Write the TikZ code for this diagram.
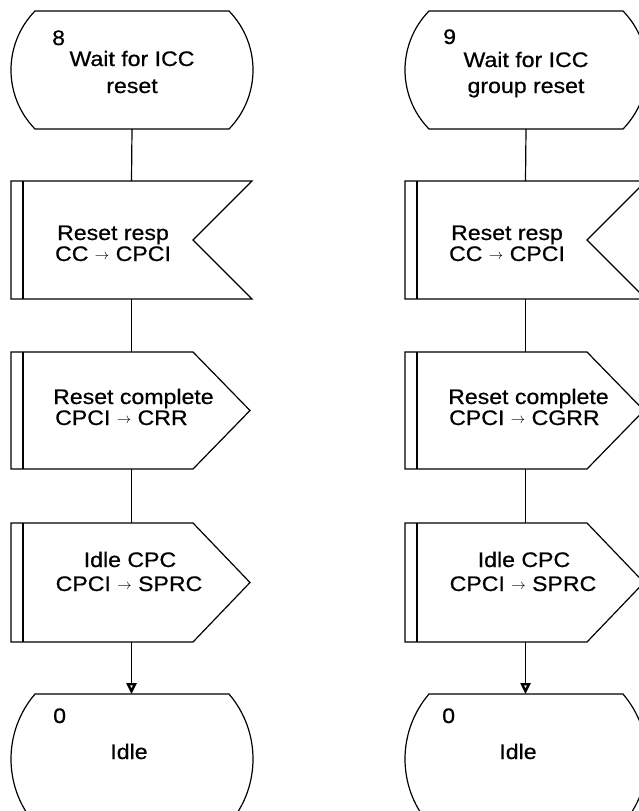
\documentclass[tikz,border=0pt]{standalone}
\usepackage{fontspec}
\setmainfont{Liberation Sans}[FakeStretch=1.1,FakeBold=0.6]
\usetikzlibrary{arrows.meta,calc}

\tikzset{
  lw/.style={line width=1.2pt},
  frame/.style={draw=none, inner sep=0pt, outer sep=0pt},
  txt/.style={inner sep=0pt, font=\fontsize{21}{22}\selectfont, anchor=base},
  txtw/.style={txt, anchor=base west},
  flow/.style={lw},
  flowarrow/.style={lw, -{Triangle[open,length=11pt,width=10pt,line width=2.4pt]}},
}
\newcommand\arr{{\fontsize{15}{15}\selectfont\raisebox{1.5pt}{$\rightarrow$}}}
\newcommand\statepath[3]{%
  \draw[lw] ($(#1.north)+(-97,0)$) -- ($(#1.north)+(97,0)$)
    .. controls ($(#1.north)+(97+#2,#3)$) and ($(#1.south)+(97+#2,-#3)$) .. ($(#1.south)+(97,0)$)
    -- ($(#1.south)+(-97,0)$)
    .. controls ($(#1.south)+(-97-#2,-#3)$) and ($(#1.north)+(-97-#2,#3)$) .. cycle;}
\newcommand\inpath[1]{%
  \draw[lw] (#1.north west) -- (#1.north east) -- ($(#1.east)+(-59,0)$) -- (#1.south east) -- (#1.south west) -- cycle;
  \draw[lw] ($(#1.north west)+(12,0)$) -- ($(#1.south west)+(12,0)$);}
\newcommand\outpath[1]{%
  \draw[lw] (#1.north west) -- ($(#1.north east)+(-57,0)$) -- (#1.east) -- ($(#1.south east)+(-57,0)$) -- (#1.south west) -- cycle;
  \draw[lw] ($(#1.north west)+(12,0)$) -- ($(#1.south west)+(12,0)$);}

\begin{document}
\begin{tikzpicture}[x=1pt,y=-1pt,line join=miter]
\path[use as bounding box, clip] (0,0) rectangle (639,811);
\fill[white] (0,0) rectangle (639,811);

% ---------- left column ----------
\node[frame, minimum width=242pt, minimum height=118pt] (s8) at (132,70) {};
\node[frame, minimum width=241pt, minimum height=118pt] (r1) at (131.5,240) {};
\node[frame, minimum width=239pt, minimum height=117pt] (c1) at (130.5,410.5) {};
\node[frame, minimum width=239pt, minimum height=119pt] (i1) at (130.5,582.5) {};
\node[frame, minimum width=242pt, minimum height=130pt] (z1) at (132,759) {};

\statepath{s8}{32}{32.9}
\inpath{r1}
\outpath{c1}
\outpath{i1}
\statepath{z1}{32}{37.4}

\draw[flow] (s8.south) -- (r1.north);
\draw[flow] (r1.south) -- (r1.south |- c1.north);
\draw[flow] (c1.south -| r1.south) -- (r1.south |- i1.north);
\draw[flowarrow] (i1.south -| r1.south) -- (r1.south |- z1.north);

\node[txtw] (n8) at (52,45) {8};
\node[txt] (t8a) at (132,66) {Wait for ICC};
\node[txt] (t8b) at (132,93) {reset};
\node[txt] (r1a) at (113,240) {Reset resp};
\node[txt] (r1b) at (113,261) {CC \arr{} CPCI};
\node[txtw] (c1a) at (53,404) {Reset complete};
\node[txtw] (c1b) at (55,425) {CPCI \arr{} CRR};
\node[txt] (i1a) at (130,567) {Idle CPC};
\node[txt] (i1b) at (129,591) {CPCI \arr{} SPRC};
\node[txtw] (n0a) at (53,723) {0};
\node[txt] (z1a) at (129,759) {Idle};

% ---------- right column ----------
\node[frame, minimum width=242pt, minimum height=118pt] (s9) at (526,70) {};
\node[frame, minimum width=241pt, minimum height=118pt] (r2) at (525.5,240) {};
\node[frame, minimum width=239pt, minimum height=117pt] (c2) at (524.5,410.5) {};
\node[frame, minimum width=239pt, minimum height=119pt] (i2) at (524.5,582.5) {};
\node[frame, minimum width=242pt, minimum height=130pt] (z2) at (526,759) {};

\statepath{s9}{32}{32.9}
\inpath{r2}
\outpath{c2}
\outpath{i2}
\statepath{z2}{32}{37.4}

\draw[flow] (s9.south) -- (r2.north);
\draw[flow] (r2.south) -- (r2.south |- c2.north);
\draw[flow] (c2.south -| r2.south) -- (r2.south |- i2.north);
\draw[flowarrow] (i2.south -| r2.south) -- (r2.south |- z2.north);

\node[txtw] (n9) at (443,44) {9};
\node[txt] (t9a) at (526,67) {Wait for ICC};
\node[txt] (t9b) at (526,93) {group reset};
\node[txt] (r2a) at (507,240) {Reset resp};
\node[txt] (r2b) at (507,261) {CC \arr{} CPCI};
\node[txtw] (c2a) at (448,404) {Reset complete};
\node[txtw] (c2b) at (449,425) {CPCI \arr{} CGRR};
\node[txt] (i2a) at (524,567) {Idle CPC};
\node[txt] (i2b) at (523,591) {CPCI \arr{} SPRC};
\node[txtw] (n0b) at (442,723) {0};
\node[txt] (z2a) at (518,759) {Idle};
\end{tikzpicture}
\end{document}
